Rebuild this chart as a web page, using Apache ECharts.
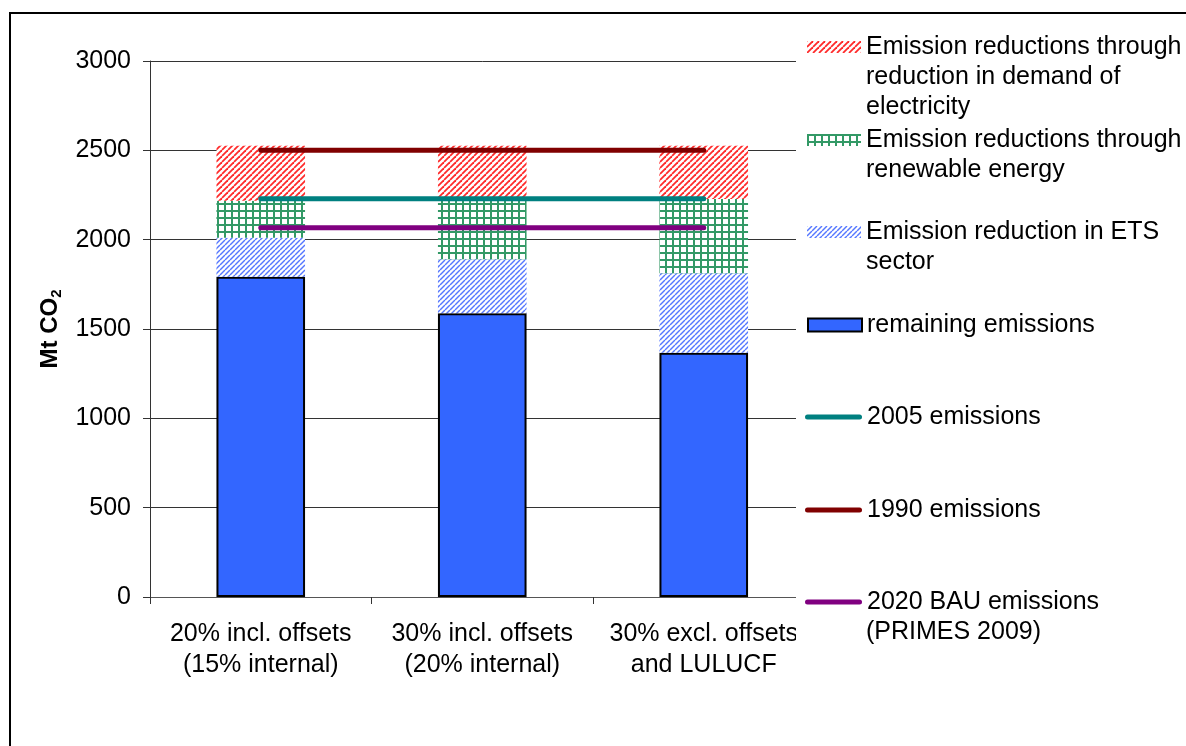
<!DOCTYPE html>
<html><head><meta charset="utf-8">
<script src="https://cdn.jsdelivr.net/npm/echarts@6/dist/echarts.min.js"></script>
<style>html,body{margin:0;padding:0;background:#fff}#c{width:1186px;height:746px}</style>
</head><body><div id="c"></div>
<script>
// ---- data ----
const categories = ['20% incl. offsets\n(15% internal)', '30% incl. offsets\n(20% internal)', '30% excl. offsets\nand LULUCF'];
const remaining = [1793, 1588, 1367];
const etsReduction = [218, 302, 445];
const renewableReduction = [207, 338, 416];
const demandReduction = [308, 298, 298];
const emissions2005 = [2229, 2229, 2229];
const emissions1990 = [2500, 2500, 2500];
const bau2020 = [2067, 2067, 2067];
const seriesNames = ['Emission reductions through reduction in demand of electricity', 'Emission reductions through renewable energy', 'Emission reduction in ETS sector', 'remaining emissions', '2005 emissions', '1990 emissions', '2020 BAU emissions (PRIMES 2009)'];
const legendLabels = ['Emission reductions through\nreduction in demand of\nelectricity', 'Emission reductions through\nrenewable energy', 'Emission reduction in ETS\nsector', 'remaining emissions', '2005 emissions', '1990 emissions', '2020 BAU emissions\n(PRIMES 2009)'];

// ---- patterns ----
function hatch(color, size, lw) {
  const c = document.createElement('canvas'); c.width = c.height = size;
  const g = c.getContext('2d'); g.fillStyle = '#fff'; g.fillRect(0, 0, size, size);
  g.strokeStyle = color; g.lineWidth = lw;
  for (const k of [-1, 0, 1]) { g.beginPath(); g.moveTo(k * size, size); g.lineTo(k * size + size, 0); g.stroke(); }
  return { image: c, repeat: 'repeat' };
}
function gridPat(color, size, lw) {
  const c = document.createElement('canvas'); c.width = c.height = size;
  const g = c.getContext('2d'); g.fillStyle = '#fff'; g.fillRect(0, 0, size, size);
  g.fillStyle = color; g.fillRect(0, 0, lw, size); g.fillRect(0, 0, size, lw);
  return { image: c, repeat: 'repeat' };
}
const redPat = hatch('#FF2A2A', 6, 1.8);
const bluePat = hatch('#5577FF', 5, 1.4);
const greenPat = gridPat('#339966', 7, 2);

const FONT = '"Liberation Sans", Arial, sans-serif';
const FS = 25, LH = 30;
const centers = [47, 140, 232, 325, 417, 510, 602];
const isLine = [false, false, false, false, true, true, true];
const lineIcon = 'path://M2.5,0 L54.5,0 A2.5,2.5 0 0 1 54.5,5 L2.5,5 A2.5,2.5 0 0 1 2.5,0 Z';

const legends = [];
const extraTexts = [];
seriesNames.forEach((name, i) => {
  const lines = legendLabels[i].split('\n');
  legends.push({
    data: [{ name, icon: isLine[i] ? lineIcon : 'rect' }],
    left: isLine[i] ? 805 : 807,
    top: centers[i] - LH / 2,
    orient: 'vertical', padding: 0,
    itemWidth: isLine[i] ? 57 : 54,
    itemHeight: isLine[i] ? 5 : (i === 3 ? 13 : 12),
    selectedMode: false,
    formatter: () => lines[0],
    textStyle: { fontSize: FS, lineHeight: LH, fontFamily: FONT, color: '#000' },
    z: 6
  });
  for (let k = 1; k < lines.length; k++) {
    extraTexts.push({
      type: 'text', x: 866, y: centers[i] + k * LH, z: 7,
      style: { text: lines[k], font: FS + 'px ' + FONT, fill: '#000', verticalAlign: 'middle', align: 'left' }
    });
  }
});

const chart = echarts.init(document.getElementById('c'));
chart.setOption({
  animation: false,
  backgroundColor: '#fff',
  textStyle: { fontFamily: FONT },
  grid: { left: 150, top: 61, right: 371.5, bottom: 149, containLabel: false },
  legend: legends,
  xAxis: {
    type: 'category', data: categories,
    axisLine: { lineStyle: { color: '#555', width: 1 } },
    axisTick: { show: true, length: 7, lineStyle: { color: '#333' } },
    axisLabel: { fontSize: FS, lineHeight: 31, margin: 22, color: '#000', interval: 0, fontFamily: FONT }
  },
  yAxis: {
    type: 'value', min: 0, max: 3000, interval: 500,
    name: '{a|Mt CO}{b|2}', nameLocation: 'middle', nameRotate: 90, nameGap: 86,
    nameTextStyle: { rich: {
      a: { fontSize: 24, fontWeight: 'bold', fontFamily: FONT, color: '#000', lineHeight: 28 },
      b: { fontSize: 15, fontWeight: 'bold', fontFamily: FONT, color: '#000', verticalAlign: 'bottom' }
    } },
    axisLine: { show: true, lineStyle: { color: '#333', width: 1 } },
    axisTick: { show: true, length: 7, lineStyle: { color: '#333' } },
    axisLabel: { fontSize: FS, margin: 19, color: '#000', fontFamily: FONT, formatter: v => String(v) },
    splitLine: { show: true, lineStyle: { color: '#333', width: 1 } }
  },
  series: [
    { name: seriesNames[3], type: 'bar', stack: 's', barWidth: '40%', data: remaining,
      itemStyle: { color: '#3366FF', borderColor: '#000', borderWidth: 2 } },
    { name: seriesNames[2], type: 'bar', stack: 's', data: etsReduction, itemStyle: { color: bluePat } },
    { name: seriesNames[1], type: 'bar', stack: 's', data: renewableReduction, itemStyle: { color: greenPat } },
    { name: seriesNames[0], type: 'bar', stack: 's', data: demandReduction, itemStyle: { color: redPat } },
    { name: seriesNames[4], type: 'line', data: emissions2005, symbol: 'none', z: 3,
      lineStyle: { color: '#008080', width: 5, cap: 'round' }, itemStyle: { color: '#008080' } },
    { name: seriesNames[5], type: 'line', data: emissions1990, symbol: 'none', z: 3,
      lineStyle: { color: '#800000', width: 5, cap: 'round' }, itemStyle: { color: '#800000' } },
    { name: seriesNames[6], type: 'line', data: bau2020, symbol: 'none', z: 3,
      lineStyle: { color: '#800080', width: 5, cap: 'round' }, itemStyle: { color: '#800080' } }
  ],
  graphic: [
    { type: 'rect', shape: { x: 796, y: 20, width: 400, height: 680 }, style: { fill: '#fff' }, z: 4 },
    { type: 'rect', shape: { x: 10, y: 13, width: 1400, height: 1000 }, style: { fill: 'none', stroke: '#000', lineWidth: 2 }, z: 10 }
  ].concat(extraTexts)
});
</script>
</body></html>
